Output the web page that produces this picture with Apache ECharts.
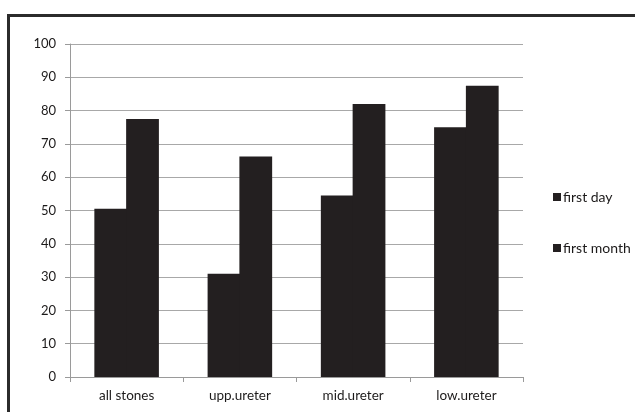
<!DOCTYPE html>
<html>
<head>
<meta charset="utf-8">
<script src="https://cdn.jsdelivr.net/npm/echarts@6/dist/echarts.min.js"></script>
<style>
html,body{margin:0;padding:0;background:#fff;}
#c{width:635px;height:412px;}
</style>
</head>
<body>
<div id="c"></div>
<script>
const categories = ['all stones', 'upp.ureter', 'mid.ureter', 'low.ureter'];
const firstDay = [50.5, 31, 54.5, 75];
const firstMonth = [77.5, 66.2, 82, 87.5];
const yTicks = { min: 0, max: 100, interval: 10 };

const barColor = '#231f20';
const textColor = '#1c1a1a';
const fontFam = 'Lato, "Open Sans", sans-serif';

const chart = echarts.init(document.getElementById('c'), null, { renderer: 'canvas' });
chart.setOption({
  animation: false,
  backgroundColor: '#fff',
  graphic: [{
    type: 'rect',
    shape: { x: 8.5, y: 15.5, width: 700, height: 500 },
    style: { fill: 'none', stroke: '#2b2b2b', lineWidth: 3 },
    z: 100
  }],
  grid: { left: 70, right: 112, top: 44, bottom: 35, containLabel: false },
  legend: {
    orient: 'vertical',
    left: 548,
    top: 185,
    itemWidth: 8,
    itemHeight: 8,
    itemGap: 37,
    icon: 'rect',
    textStyle: { color: textColor, fontSize: 14, fontFamily: fontFam, padding: [0, 0, 0, -3] },
    data: ['first day', 'first month']
  },
  xAxis: {
    type: 'category',
    data: categories,
    axisLine: { lineStyle: { color: '#9a9a9a', width: 1 } },
    axisTick: { show: true, length: 5, lineStyle: { color: '#9a9a9a' } },
    axisLabel: { color: textColor, fontSize: 13.5, fontFamily: fontFam, margin: 12 }
  },
  yAxis: {
    type: 'value',
    min: yTicks.min,
    max: yTicks.max,
    interval: yTicks.interval,
    axisLine: { show: true, lineStyle: { color: '#9a9a9a', width: 1 } },
    axisTick: { show: true, length: 5, lineStyle: { color: '#9a9a9a' } },
    splitLine: { show: true, lineStyle: { color: '#a8a8a8', width: 1 } },
    axisLabel: { color: textColor, fontSize: 13, fontFamily: fontFam, margin: 14 }
  },
  series: [
    {
      name: 'first day', type: 'bar', data: firstDay,
      itemStyle: { color: barColor },
      barGap: '-3%', barCategoryGap: '43%'
    },
    {
      name: 'first month', type: 'bar', data: firstMonth,
      itemStyle: { color: barColor },
      barGap: '-3%', barCategoryGap: '43%'
    }
  ]
});
</script>
</body>
</html>
